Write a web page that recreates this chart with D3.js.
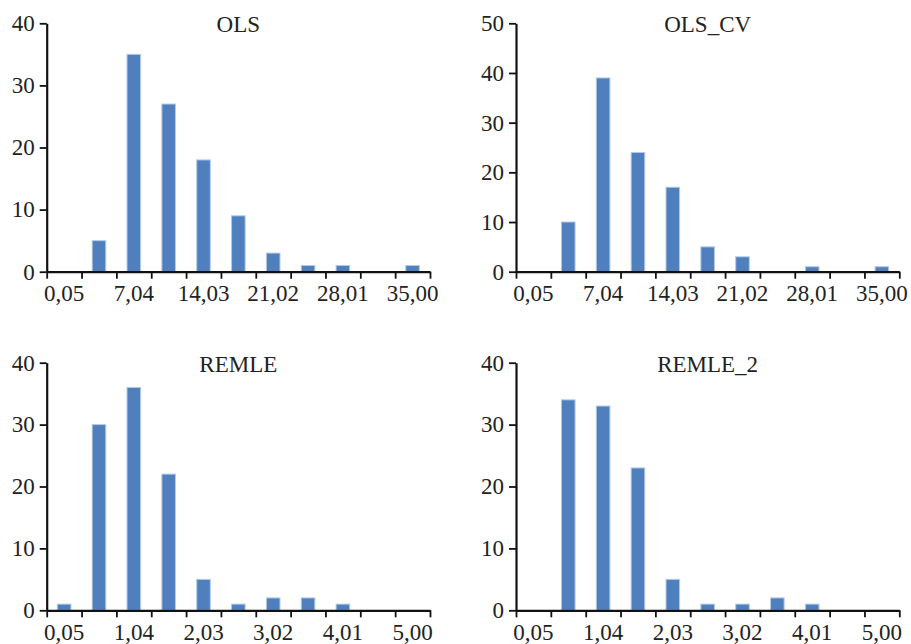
<!DOCTYPE html>
<html>
<head>
<meta charset="utf-8">
<script src="https://cdn.jsdelivr.net/npm/d3@7"></script>
<style>
  html, body { margin: 0; padding: 0; background: #fff; }
  svg { display: block; }
  text { font-family: "Liberation Serif", "DejaVu Serif", serif; fill: #222; }
</style>
</head>
<body>
<svg id="chart" width="911" height="644"></svg>
<script>
// ---- Data ----
const olsBins   = [0.05, 3.545, 7.04, 10.535, 14.03, 17.525, 21.02, 24.515, 28.01, 31.505, 35.00];
const remleBins = [0.05, 0.545, 1.04, 1.535, 2.03, 2.525, 3.02, 3.515, 4.01, 4.505, 5.00];

const olsCounts     = [0, 5, 35, 27, 18, 9, 3, 1, 1, 0, 1];
const olsCvCounts   = [0, 10, 39, 24, 17, 5, 3, 0, 1, 0, 1];
const remleCounts   = [1, 30, 36, 22, 5, 1, 2, 2, 1, 0, 0];
const remle2Counts  = [0, 34, 33, 23, 5, 1, 1, 2, 1, 0, 0];

const olsTickLabels   = ["0,05", "7,04", "14,03", "21,02", "28,01", "35,00"];
const remleTickLabels = ["0,05", "1,04", "2,03", "3,02", "4,01", "5,00"];

const titles = ["OLS", "OLS_CV", "REMLE", "REMLE_2"];
const yMaxes = [40, 50, 40, 40];
const yTicks = [[0,10,20,30,40],[0,10,20,30,40,50],[0,10,20,30,40],[0,10,20,30,40]];

const panels = [
  {title: titles[0], bins: olsBins,   counts: olsCounts,    labels: olsTickLabels,   yMax: yMaxes[0], yTicks: yTicks[0], x0: 46.7, x1: 430,   yTop: 23.3,  yBot: 271.7},
  {title: titles[1], bins: olsBins,   counts: olsCvCounts,  labels: olsTickLabels,   yMax: yMaxes[1], yTicks: yTicks[1], x0: 516,  x1: 899.3, yTop: 23.3,  yBot: 271.7},
  {title: titles[2], bins: remleBins, counts: remleCounts,  labels: remleTickLabels, yMax: yMaxes[2], yTicks: yTicks[2], x0: 46.7, x1: 430,   yTop: 362.7, yBot: 610.3},
  {title: titles[3], bins: remleBins, counts: remle2Counts, labels: remleTickLabels, yMax: yMaxes[3], yTicks: yTicks[3], x0: 516,  x1: 899.3, yTop: 362.7, yBot: 610.3}
];

const svg = d3.select("#chart");
const FS = 23;

panels.forEach(p => {
  const g = svg.append("g");
  const x = d3.scaleBand().domain(p.bins.map((d, i) => i)).range([p.x0, p.x1]).padding(0);
  const xEdge = d3.scaleLinear().domain([0, p.bins.length]).range([p.x0, p.x1]);
  const y = d3.scaleLinear().domain([0, p.yMax]).range([p.yBot, p.yTop]);

  // bars
  const bw = x.bandwidth() * 0.39;
  g.selectAll("rect.bar").data(p.counts).join("rect")
    .attr("class", "bar")
    .attr("x", (d, i) => x(i) + x.bandwidth() / 2 - bw / 2)
    .attr("y", d => y(d))
    .attr("width", bw)
    .attr("height", d => p.yBot - y(d))
    .attr("fill", d => d > 0 ? "#4f80bd" : "none")
    .attr("stroke", d => d > 0 ? "#b3cae6" : "none")
    .attr("stroke-width", 1);

  // x axis ticks at band edges
  const xAxisG = g.append("g").attr("transform", `translate(0,${p.yBot})`)
    .call(d3.axisBottom(xEdge).tickValues(d3.range(p.bins.length + 1)).tickSize(7).tickSizeOuter(0).tickFormat(""));
  xAxisG.select(".domain").attr("stroke", "#111").attr("stroke-width", 2.2);
  xAxisG.selectAll(".tick line").attr("stroke", "#111").attr("stroke-width", 1.8);

  // x labels at every other band centre
  const labelIdx = p.bins.map((d, i) => i).filter(i => i % 2 === 0);
  const xLab = g.append("g").attr("transform", `translate(0,${p.yBot})`)
    .call(d3.axisBottom(x).tickValues(labelIdx).tickSize(0).tickPadding(13)
      .tickFormat((d, k) => p.labels[k]));
  xLab.select(".domain").remove();
  xLab.selectAll("text").style("font-size", FS + "px").attr("fill", "#222");

  // y axis
  const yAxisG = g.append("g").attr("transform", `translate(${p.x0},0)`)
    .call(d3.axisLeft(y).tickValues(p.yTicks).tickSize(7).tickSizeOuter(0).tickPadding(5).tickFormat(d3.format("d")));
  yAxisG.select(".domain").attr("stroke", "#111").attr("stroke-width", 2.2);
  yAxisG.selectAll(".tick line").attr("stroke", "#111").attr("stroke-width", 1.8);
  yAxisG.selectAll("text").style("font-size", FS + "px").attr("fill", "#222");

  // title
  g.append("text")
    .attr("x", (p.x0 + p.x1) / 2)
    .attr("y", p.yTop + 9)
    .attr("text-anchor", "middle")
    .style("font-size", FS + "px")
    .text(p.title);
});
</script>
</body>
</html>
